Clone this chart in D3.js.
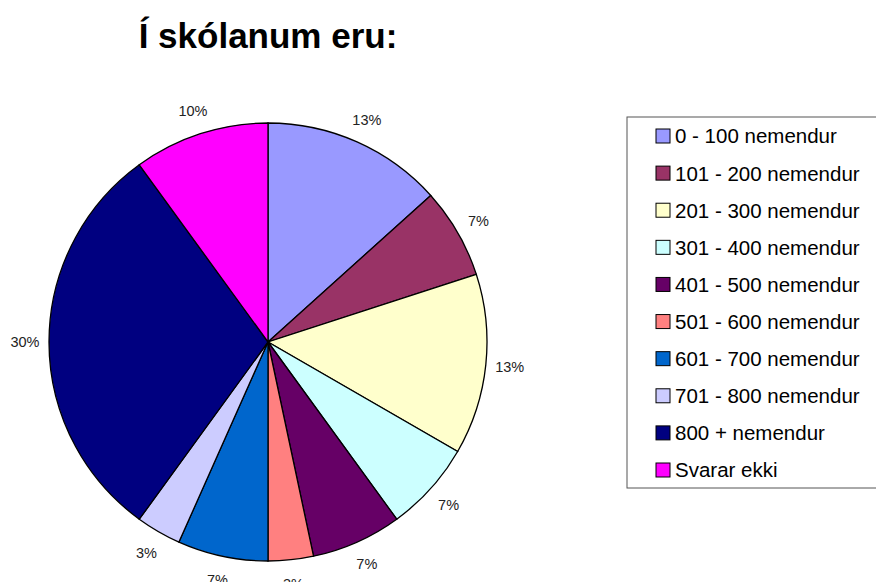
<!DOCTYPE html>
<html lang="is">
<head>
<meta charset="utf-8">
<title>Í skólanum eru:</title>
<script src="https://d3js.org/d3.v7.min.js"></script>
<style>
  body { margin: 0; background: #fff; }
  svg text { font-family: "Liberation Sans", Arial, sans-serif; }
</style>
</head>
<body>
<script>
// data (counts out of 30 answers)
var categories = ["0 - 100 nemendur", "101 - 200 nemendur", "201 - 300 nemendur",
  "301 - 400 nemendur", "401 - 500 nemendur", "501 - 600 nemendur",
  "601 - 700 nemendur", "701 - 800 nemendur", "800 + nemendur", "Svarar ekki"];
var values = [4, 2, 4, 2, 2, 1, 2, 1, 9, 3];
var colors = ["#9999FF", "#993366", "#FFFFCC", "#CCFFFF", "#660066",
  "#FF8080", "#0066CC", "#CCCCFF", "#000080", "#FF00FF"];

var w = 876, h = 582;
var cx = 268, cy = 342, r = 219;

var svg = d3.select("body").append("svg")
  .attr("width", w).attr("height", h);

svg.append("text")
  .attr("x", cx).attr("y", 48)
  .attr("text-anchor", "middle")
  .attr("font-size", "35px")
  .attr("font-weight", "bold")
  .text("Í skólanum eru:");

var total = d3.sum(values);
var pie = d3.pie().sort(null).value(function(d) { return d; });
var arcs = pie(values);
var arc = d3.arc().innerRadius(0).outerRadius(r);
var labelArc = d3.arc().innerRadius(243).outerRadius(243);

var g = svg.append("g").attr("transform", "translate(" + cx + "," + cy + ")");

g.selectAll("path")
  .data(arcs)
  .enter().append("path")
  .attr("d", arc)
  .attr("fill", function(d, i) { return colors[i]; })
  .attr("stroke", "#000")
  .attr("stroke-width", 1.3);

g.selectAll("text.lbl")
  .data(arcs)
  .enter().append("text")
  .attr("class", "lbl")
  .attr("transform", function(d) { return "translate(" + labelArc.centroid(d) + ")"; })
  .attr("text-anchor", "middle")
  .attr("dy", "0.35em")
  .attr("font-size", "14.5px")
  .attr("fill", "#222")
  .text(function(d) { return Math.round(d.value / total * 100) + "%"; });

// legend
var lx = 627, ly = 117, lw = 252, lh = 371;
svg.append("rect")
  .attr("x", lx).attr("y", ly).attr("width", lw).attr("height", lh)
  .attr("fill", "#fff").attr("stroke", "#555").attr("stroke-width", 1);

var rowY = d3.scalePoint().domain(categories).range([136, 470]);

var items = svg.selectAll("g.item")
  .data(categories)
  .enter().append("g")
  .attr("class", "item")
  .attr("transform", function(d) { return "translate(656," + rowY(d) + ")"; });

items.append("rect")
  .attr("x", 0).attr("y", -7).attr("width", 14).attr("height", 14)
  .attr("fill", function(d, i) { return colors[i]; })
  .attr("stroke", "#000").attr("stroke-width", 1);

items.append("text")
  .attr("x", 19).attr("dy", "0.36em")
  .attr("font-size", "20.5px")
  .attr("fill", "#000")
  .text(function(d) { return d; });
</script>
</body>
</html>
